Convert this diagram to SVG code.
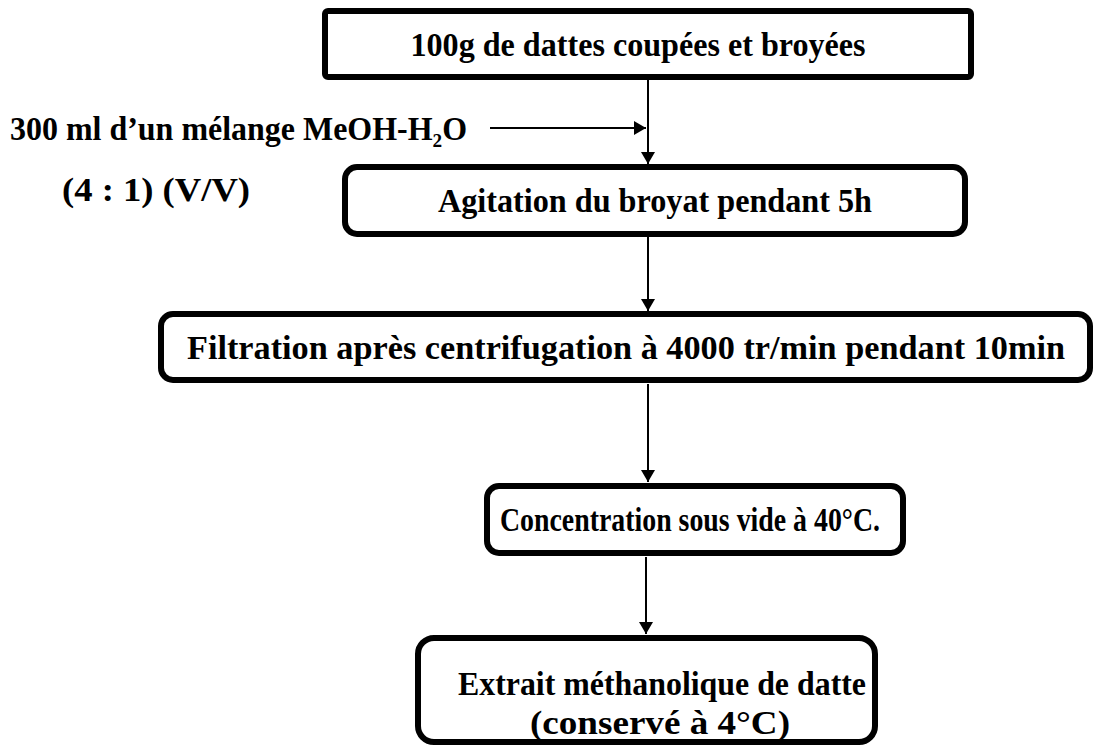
<svg xmlns="http://www.w3.org/2000/svg" width="1097" height="747" viewBox="0 0 1097 747">
  <style>
    .box { fill: #ffffff; stroke: #000000; stroke-width: 6; }
    .t { font-family: "Liberation Serif", "Times New Roman", serif; font-weight: bold; font-size: 33px; fill: #000000; }
    .c { text-anchor: middle; }
    .ln { stroke: #000000; stroke-width: 2; fill: none; marker-end: url(#ah); }
  </style>
  <defs>
    <marker id="ah" markerWidth="12" markerHeight="14" refX="12" refY="7" orient="auto" markerUnits="userSpaceOnUse">
      <path d="M0,0 L12,7 L0,14 Z" fill="#000000"/>
    </marker>
  </defs>
  <rect width="1097" height="747" fill="#ffffff"/>

  <g id="connectors">
    <line class="ln" x1="648" y1="80" x2="648" y2="164"/>
    <line class="ln" x1="490" y1="128" x2="646" y2="128"/>
    <line class="ln" x1="648" y1="237" x2="648" y2="311"/>
    <line class="ln" x1="648" y1="384" x2="648" y2="482"/>
    <line class="ln" x1="646" y1="557" x2="646" y2="634"/>
  </g>

  <g id="input">
    <text class="t" x="10" y="140" textLength="457" lengthAdjust="spacingAndGlyphs">300 ml d’un mélange MeOH-H₂O</text>
    <text class="t" x="62" y="201" textLength="188" lengthAdjust="spacingAndGlyphs">(4 : 1) (V/V)</text>
  </g>

  <g id="n1">
    <rect class="box" x="325" y="11" width="646" height="66" rx="3"/>
    <text class="t c" x="638" y="56" textLength="455" lengthAdjust="spacingAndGlyphs">100g de dattes coupées et broyées</text>
  </g>

  <g id="n2">
    <rect class="box" x="345" y="167" width="620" height="67" rx="12"/>
    <text class="t c" x="655" y="212" textLength="434" lengthAdjust="spacingAndGlyphs">Agitation du broyat pendant 5h</text>
  </g>

  <g id="n3">
    <rect class="box" x="161" y="314" width="929" height="66" rx="12"/>
    <text class="t c" x="626" y="359" textLength="878" lengthAdjust="spacingAndGlyphs">Filtration après centrifugation à 4000 tr/min pendant 10min</text>
  </g>

  <g id="n4">
    <rect class="box" x="487" y="486" width="416" height="67" rx="12"/>
    <text class="t c" x="690" y="531" textLength="380" lengthAdjust="spacingAndGlyphs">Concentration sous vide à 40°C.</text>
  </g>

  <g id="n5">
    <rect class="box" x="418" y="638" width="457" height="104" rx="16"/>
    <text class="t c" x="662" y="695" textLength="408" lengthAdjust="spacingAndGlyphs">Extrait méthanolique de datte</text>
    <text class="t c" x="660" y="734" textLength="260" lengthAdjust="spacingAndGlyphs">(conservé à 4°C)</text>
  </g>
</svg>
